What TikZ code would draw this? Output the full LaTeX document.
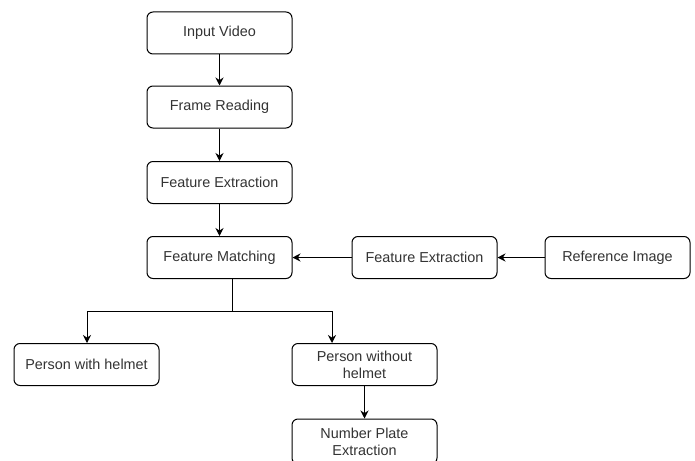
\documentclass[tikz,border=0pt]{standalone}
\usepackage{fontspec}
\setmainfont{Liberation Sans}
\usetikzlibrary{arrows.meta}
\definecolor{txt}{HTML}{333333}
\begin{document}
\begin{tikzpicture}[x=1pt,y=-1pt,
  box/.style={draw=black, line width=1pt, rounded corners=6pt, fill=white,
    minimum width=145pt, minimum height=42pt, inner sep=0pt, align=center,
    text=txt, font=\fontsize{14.4}{17}\selectfont},
  line/.style={draw=black, line width=1pt},
  conn/.style={line, -{Stealth[length=8pt,width=8pt]}}]
\useasboundingbox (0,0) rectangle (695,460);
\clip (0,0) rectangle (695,460);
\node[box] (iv) at (219.5,33) {Input Video};
\node[box] (fr) at (219.5,107) {Frame Reading};
\node[box] (fe1) at (219.5,182.5) {Feature Extraction};
\node[box] (fm) at (219.5,257.5) {Feature Matching};
\node[box] (fe2) at (424.5,257.5) {Feature Extraction};
\node[box] (ri) at (617.5,257.5) {Reference Image};
\node[box] (pwh) at (86.5,364.5) {Person with helmet};
\node[box] (pwoh) at (364.5,364.5) {Person without\\helmet};
\node[box, minimum height=45pt] (np) at (364.5,441.5) {Number Plate\\Extraction};
\coordinate (br) at (232,311);
\coordinate (bl) at (87,311);
\coordinate (bR) at (332,311);
\draw[conn] (iv) -- (fr);
\draw[conn] (fr) -- (fe1);
\draw[conn] (fe1) -- (fm);
\draw[conn] (ri) -- (fe2);
\draw[conn] (fe2) -- (fm);
\draw[line] (fm.south -| br) -- (br);
\draw[line] (bl) -- (bR);
\draw[conn] (bl) -- (bl |- pwh.north);
\draw[conn] (bR) -- (bR |- pwoh.north);
\draw[conn] (pwoh) -- (np);
\end{tikzpicture}
\end{document}
